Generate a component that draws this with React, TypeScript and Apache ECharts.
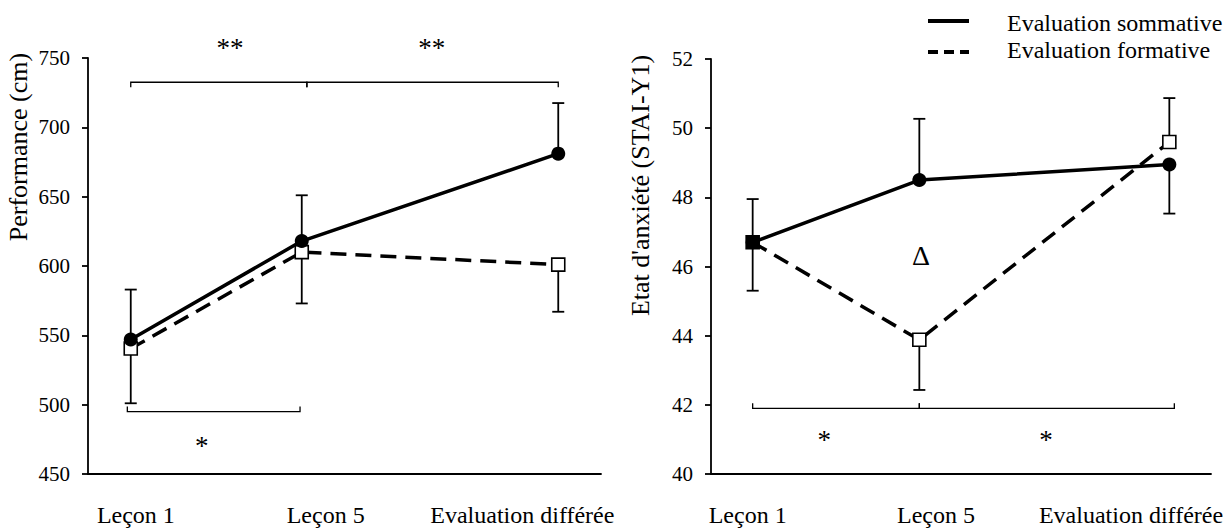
import React, { useEffect, useRef } from "react";
import * as echarts from "echarts";

// ---------- data ----------
const categories = ["Leçon 1", "Leçon 5", "Evaluation différée"];
const xPositions = [0, 1, 2.5];
const leftLabelPositions = [0.03, 1.14, 2.29];
const rightLabelPositions = [-0.03, 1.1, 2.27];
const seriesNames = ["Evaluation sommative", "Evaluation formative"];

const perfTitle = "Performance (cm)";
const perfMin = 450;
const perfMax = 750;
const perfInterval = 50;
const perfSommative = [547, 618, 681];
const perfFormative = [540.5, 610, 601];
const perfSommativeErr = [36, 33, 36.5];
const perfFormativeErr = [-39.5, -37, -34];
// [xStart, xEnd, y, tick direction]
const perfBrackets = [
  [0, 1.03, 732.5, 1],
  [1.03, 2.5, 732.5, 1],
  [-0.02, 0.99, 495, -1],
];
const perfMarks: [number, number, string][] = [
  [0.58, 757, "**"],
  [1.76, 757, "**"],
  [0.415, 470, "*"],
];

const anxTitle = "Etat d'anxiété (STAI-Y1)";
const anxMin = 40;
const anxMax = 52;
const anxInterval = 2;
const anxSommative = [46.7, 48.5, 48.95];
const anxFormative = [46.7, 43.88, 49.6];
const anxSommativeErr = [1.25, 1.77, -1.42];
const anxFormativeErr = [-1.4, -1.45, 1.27];
const anxBrackets = [
  [0, 1, 41.9, -1],
  [1, 2.53, 41.9, -1],
];
const anxMarks: [number, number, string][] = [
  [0.43, 40.98, "*"],
  [1.76, 40.98, "*"],
  [1.01, 46.33, "Δ"],
];

// ---------- styles ----------
const FONT = "'Liberation Serif', 'Times New Roman', serif";
const BLACK = "#000";

const errorBarItem = (_params: any, api: any) => {
  const x = api.value(0);
  const y = api.value(1);
  const e = api.value(2);
  const p0 = api.coord([x, y]);
  const p1 = api.coord([x, y + e]);
  const style = { stroke: BLACK, lineWidth: 1.8 };
  return {
    type: "group",
    children: [
      { type: "line", shape: { x1: p0[0], y1: p0[1], x2: p1[0], y2: p1[1] }, style },
      { type: "line", shape: { x1: p1[0] - 6, y1: p1[1], x2: p1[0] + 6, y2: p1[1] }, style },
    ],
  };
};

const bracketItem = (_params: any, api: any) => {
  const a = api.coord([api.value(0), api.value(2)]);
  const b = api.coord([api.value(1), api.value(2)]);
  const d = api.value(3) * 5;
  return {
    type: "polyline",
    shape: { points: [[a[0], a[1] + d], a, b, [b[0], b[1] + d]] },
    style: { stroke: BLACK, fill: "none", lineWidth: 1.3 },
  };
};

const makeMarkItem = (marks: [number, number, string][]) => (params: any, api: any) => {
  const m = marks[params.dataIndex];
  const p = api.coord([m[0], m[1]]);
  const isDelta = m[2] === "Δ";
  return {
    type: "text",
    x: p[0],
    y: p[1],
    style: {
      text: m[2],
      fill: BLACK,
      font: `${isDelta ? 28 : 27}px ${FONT}`,
      textAlign: "center",
      textVerticalAlign: "middle",
    },
  };
};

const labelFormatter = (positions: number[]) => (v: number) => {
  let best = 0;
  positions.forEach((p, i) => {
    if (Math.abs(p - v) < Math.abs(positions[best] - v)) best = i;
  });
  return categories[best];
};

const makeXAxis = (gridIndex: number, positions: number[]) => ({
  type: "value",
  gridIndex,
  min: -0.25,
  max: 2.75,
  splitLine: { show: false },
  axisTick: { show: false },
  axisLine: { show: true, onZero: false, lineStyle: { color: BLACK, width: 1.8 } },
  axisLabel: {
    customValues: positions,
    formatter: labelFormatter(positions),
    color: BLACK,
    fontFamily: FONT,
    fontSize: 24,
    margin: 29,
  },
});

const makeYAxis = (gridIndex: number, min: number, max: number, interval: number) => ({
  type: "value",
  gridIndex,
  min,
  max,
  interval,
  splitLine: { show: false },
  axisLine: { show: true, onZero: false, lineStyle: { color: BLACK, width: 1.8 } },
  axisTick: { show: true, length: 6, lineStyle: { color: BLACK, width: 1.8 } },
  axisLabel: { color: BLACK, fontFamily: FONT, fontSize: 21, margin: 18 },
});

const lineSeries = (
  idx: number,
  values: number[],
  kind: "sommative" | "formative",
  blackFirst = false
) => ({
  type: "line",
  name: kind === "sommative" ? seriesNames[0] : seriesNames[1],
  xAxisIndex: idx,
  yAxisIndex: idx,
  data: xPositions.map((x, i) =>
    blackFirst && i === 0 && kind === "formative"
      ? { value: [x, values[i]], itemStyle: { color: BLACK } }
      : [x, values[i]]
  ),
  symbol: kind === "sommative" ? "circle" : "rect",
  symbolSize: kind === "sommative" ? 14 : 13,
  showSymbol: true,
  itemStyle:
    kind === "sommative"
      ? { color: BLACK }
      : { color: "#fff", borderColor: BLACK, borderWidth: 1.6 },
  lineStyle: { color: BLACK, width: 3.5, type: kind === "sommative" ? "solid" : [16, 9] },
  emphasis: { disabled: true },
  z: kind === "sommative" ? 5 : 4,
  silent: true,
});

const errSeries = (idx: number, values: number[], errs: number[]) => ({
  type: "custom",
  xAxisIndex: idx,
  yAxisIndex: idx,
  renderItem: errorBarItem,
  data: xPositions.map((x, i) => [x, values[i], errs[i]]),
  encode: { x: 0, y: 1 },
  z: 2,
  silent: true,
});

export default function App() {
  const ref = useRef<HTMLDivElement>(null);

  useEffect(() => {
    document.body.style.margin = "0";
    if (!ref.current) return;
    const chart = echarts.init(ref.current, undefined, { renderer: "svg" });
    const option: any = {
      animation: false,
      backgroundColor: "#fff",
      textStyle: { fontFamily: FONT },
      grid: [
        { left: 88, right: 629, top: 58, bottom: 54 },
        { left: 711, right: 19, top: 59, bottom: 54 },
      ],
      xAxis: [makeXAxis(0, leftLabelPositions), makeXAxis(1, rightLabelPositions)],
      yAxis: [
        makeYAxis(0, perfMin, perfMax, perfInterval),
        makeYAxis(1, anxMin, anxMax, anxInterval),
      ],
      series: [
        errSeries(0, perfSommative, perfSommativeErr),
        errSeries(0, perfFormative, perfFormativeErr),
        lineSeries(0, perfFormative, "formative"),
        lineSeries(0, perfSommative, "sommative"),
        {
          type: "custom",
          xAxisIndex: 0,
          yAxisIndex: 0,
          renderItem: bracketItem,
          data: perfBrackets,
          encode: { x: [0, 1], y: 2 },
          silent: true,
        },
        {
          type: "custom",
          xAxisIndex: 0,
          yAxisIndex: 0,
          renderItem: makeMarkItem(perfMarks),
          data: perfMarks.map((m) => [m[0], m[1]]),
          encode: { x: 0, y: 1 },
          silent: true,
        },
        errSeries(1, anxSommative, anxSommativeErr),
        errSeries(1, anxFormative, anxFormativeErr),
        lineSeries(1, anxFormative, "formative", true),
        lineSeries(1, anxSommative, "sommative"),
        {
          type: "custom",
          xAxisIndex: 1,
          yAxisIndex: 1,
          renderItem: bracketItem,
          data: anxBrackets,
          encode: { x: [0, 1], y: 2 },
          silent: true,
        },
        {
          type: "custom",
          xAxisIndex: 1,
          yAxisIndex: 1,
          renderItem: makeMarkItem(anxMarks),
          data: anxMarks.map((m) => [m[0], m[1]]),
          encode: { x: 0, y: 1 },
          silent: true,
        },
      ],
      graphic: [
        {
          type: "text",
          x: 18,
          y: 147,
          rotation: Math.PI / 2,
          style: {
            text: perfTitle,
            fill: BLACK,
            font: `26px ${FONT}`,
            textAlign: "center",
            textVerticalAlign: "middle",
          },
        },
        {
          type: "text",
          x: 640,
          y: 185.5,
          rotation: Math.PI / 2,
          style: {
            text: anxTitle,
            fill: BLACK,
            font: `26px ${FONT}`,
            textAlign: "center",
            textVerticalAlign: "middle",
          },
        },
        {
          type: "line",
          shape: { x1: 928, y1: 21, x2: 969, y2: 21 },
          style: { stroke: BLACK, lineWidth: 4 },
        },
        {
          type: "line",
          shape: { x1: 928, y1: 52, x2: 969, y2: 52 },
          style: { stroke: BLACK, lineWidth: 4, lineDash: [10, 6] },
        },
        {
          type: "text",
          x: 1007,
          y: 22.5,
          style: {
            text: seriesNames[0],
            fill: BLACK,
            font: `24px ${FONT}`,
            textAlign: "left",
            textVerticalAlign: "middle",
          },
        },
        {
          type: "text",
          x: 1007,
          y: 49.5,
          style: {
            text: seriesNames[1],
            fill: BLACK,
            font: `24px ${FONT}`,
            textAlign: "left",
            textVerticalAlign: "middle",
          },
        },
      ],
    };
    chart.setOption(option);
    return () => chart.dispose();
  }, []);

  return (
    <div
      ref={ref}
      style={{ position: "absolute", left: 0, top: 0, width: 1230, height: 528 }}
    />
  );
}
